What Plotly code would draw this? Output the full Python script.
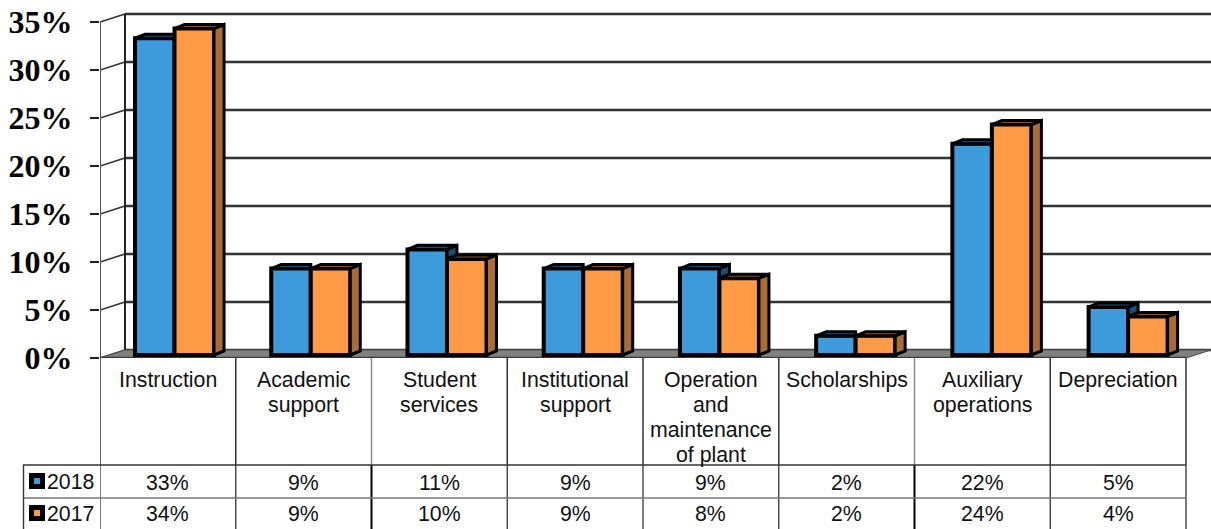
import plotly.graph_objects as go

categories = ["Instruction", "Academic support", "Student services", "Institutional support",
              "Operation and maintenance of plant", "Scholarships", "Auxiliary operations", "Depreciation"]
category_lines = [["Instruction"], ["Academic", "support"], ["Student", "services"], ["Institutional", "support"],
                  ["Operation", "and", "maintenance", "of plant"], ["Scholarships"], ["Auxiliary", "operations"], ["Depreciation"]]
values_2018 = [33, 9, 11, 9, 9, 2, 22, 5]
values_2017 = [34, 9, 10, 9, 8, 2, 24, 4]
y_ticks = [0, 5, 10, 15, 20, 25, 30, 35]

W, H = 1211, 529
L, T, B = 100, 10, 171
CAT_PX = 135.75
PCT_PX = 9.6
Y0_PX = H - B
XMIN, XMAX = -0.5, -0.5 + (W - L) / CAT_PX
YMAX = (Y0_PX - T) / PCT_PX
WALL_DX, WALL_DY = 25 / CAT_PX, 8 / PCT_PX
BAR_W = 39.5 / CAT_PX
BAR_DX, BAR_DY = 10 / CAT_PX, 0.42
BAR_BASE = 3 / PCT_PX
BLUE, ORANGE = "#3D9BDC", "#FF9A47"
BLUE_TOP, ORANGE_TOP, ORANGE_SIDE = "#14507C", "#8A4F1E", "#A96C35"


def px(p):
    return (p - L) / (W - L)


def py(p):
    return (Y0_PX - p) / (Y0_PX - T)


pos = [i + 0.049 + 0.0035 * i for i in range(len(categories))]
fig = go.Figure()
fig.add_bar(x=pos, y=values_2018, base=[BAR_BASE] * 8, offset=-BAR_W, width=BAR_W, name="2018",
            marker=dict(color=BLUE, line=dict(color="black", width=4)), cliponaxis=False)
fig.add_bar(x=pos, y=values_2017, base=[BAR_BASE] * 8, offset=0, width=BAR_W, name="2017",
            marker=dict(color=ORANGE, line=dict(color="black", width=4)), cliponaxis=False)


def add_poly(xs, ys, color):
    fig.add_scatter(x=xs, y=ys, mode="lines", fill="toself", fillcolor=color,
                    line=dict(color="black", width=3), cliponaxis=False, hoverinfo="skip", showlegend=False)


bt_x, bt_y, bs_x, bs_y, ot_x, ot_y, os_x, os_y = [], [], [], [], [], [], [], []
for p, a, b in zip(pos, values_2018, values_2017):
    ta, tb = a + BAR_BASE, b + BAR_BASE
    xl, xm, xr = p - BAR_W, p, p + BAR_W
    if a > b:
        bt_x += [xl, xl + BAR_DX, xm + BAR_DX, xm, xl, None]
        bs_x += [xm, xm + BAR_DX, xm + BAR_DX, xm, xm, None]
        bs_y += [ta, ta + BAR_DY, tb + BAR_DY, tb, ta, None]
    else:
        bt_x += [xl, xl + BAR_DX, xm, xm, xl, None]
    bt_y += [ta, ta + BAR_DY, ta + BAR_DY, ta, ta, None]
    ot_x += [xm, xm + BAR_DX, xr + BAR_DX, xr, xm, None]
    ot_y += [tb, tb + BAR_DY, tb + BAR_DY, tb, tb, None]
    os_x += [xr, xr + BAR_DX, xr + BAR_DX, xr, xr, None]
    os_y += [tb, tb + BAR_DY, BAR_BASE + BAR_DY, BAR_BASE, tb, None]
add_poly(bs_x, bs_y, BLUE_TOP)
add_poly(bt_x, bt_y, BLUE_TOP)
add_poly(os_x, os_y, ORANGE_SIDE)
add_poly(ot_x, ot_y, ORANGE_TOP)

shapes = []


def line(x0, y0, x1, y1, color="#222222", width=2, xref="x", yref="y", layer="below"):
    shapes.append(dict(type="line", x0=x0, y0=y0, x1=x1, y1=y1, xref=xref, yref=yref,
                       line=dict(color=color, width=width), layer=layer))


bx = XMIN + WALL_DX
for t in y_ticks:
    line(bx, t + WALL_DY, XMAX, t + WALL_DY, color="#333333", width=2.4)
    line(XMIN, t, bx, t + WALL_DY, color="#333333", width=1.6)
line(XMIN, 0, XMIN, y_ticks[-1], color="#555555", width=2)
line(bx, WALL_DY, bx, y_ticks[-1] + WALL_DY, color="#222222", width=2)
shapes.append(dict(type="path", xref="x", yref="y", layer="below",
                   path=f"M {XMIN} 0 L {bx} {WALL_DY} L {XMAX} {WALL_DY} L {XMAX - WALL_DX} 0 Z",
                   fillcolor="#808080", line=dict(color="#505050", width=1)))
line(XMIN, 0, XMAX - WALL_DX, 0, color="#3A3A3A", width=2.5)

# data table
for i, cx in enumerate([XMIN + k for k in range(9)]):
    heavy = i in (2, 6)
    line(cx, py(358), cx, py(465), color="#888888" if heavy else "#333333", width=1.5, xref="x", yref="paper", layer="above")
    line(cx, py(465), cx, py(529), color="#000000" if heavy else "#333333", width=2 if heavy else 1.3, xref="x", yref="paper", layer="above")
line(px(23), py(465), px(1186), py(465), color="#333333", width=1.4, xref="paper", yref="paper", layer="above")
line(px(23), py(498), px(1186), py(498), color="#777777", width=1.4, xref="paper", yref="paper", layer="above")
line(px(23.5), py(465), px(23.5), py(529), color="#333333", width=1.4, xref="paper", yref="paper", layer="above")

for ky, color in ((481, BLUE), (513, ORANGE)):
    shapes.append(dict(type="rect", xref="paper", yref="paper", x0=px(31.5), x1=px(42.5), y0=py(ky - 5.5), y1=py(ky + 5.5),
                       fillcolor=color, line=dict(color="black", width=5), layer="above"))

annotations = []
FONT = dict(family="Liberation Sans", size=21.3, color="#111111")


def text(x, y, s, xref="x", xanchor="center"):
    annotations.append(dict(x=x, y=y, xref=xref, yref="paper", text=s, showarrow=False, font=FONT,
                            xanchor=xanchor, yanchor="middle", align="center"))


for i, lines in enumerate(category_lines):
    for j, s in enumerate(lines):
        text(i, py(380 + 24.9 * j), s)
    text(i, py(483), f"{values_2018[i]}%")
    text(i, py(514), f"{values_2017[i]}%")
text(px(45), py(482), "2018", xref="paper", xanchor="left")
text(px(45), py(514), "2017", xref="paper", xanchor="left")

fig.update_layout(
    width=W, height=H, autosize=False, template=None, paper_bgcolor="white", plot_bgcolor="white",
    margin=dict(l=L, r=0, t=T, b=B, pad=0), showlegend=False, barmode="overlay",
    shapes=shapes, annotations=annotations,
    xaxis=dict(range=[XMIN, XMAX], showgrid=False, zeroline=False, showline=False,
               showticklabels=False, ticks="", fixedrange=True),
    yaxis=dict(range=[0, YMAX], showgrid=False, zeroline=False, showline=False,
               tickvals=y_ticks, ticktext=[f"{t}%" for t in y_ticks], ticks="outside", ticklen=9,
               tickwidth=2, tickcolor="#222222", ticklabelstandoff=11,
               tickfont=dict(family="Liberation Serif", size=32, color="black", weight="bold"), fixedrange=True),
)
fig.write_html("out.html", config=dict(displayModeBar=False),
               post_script="document.body.style.margin='0';document.documentElement.style.overflow='hidden';")
